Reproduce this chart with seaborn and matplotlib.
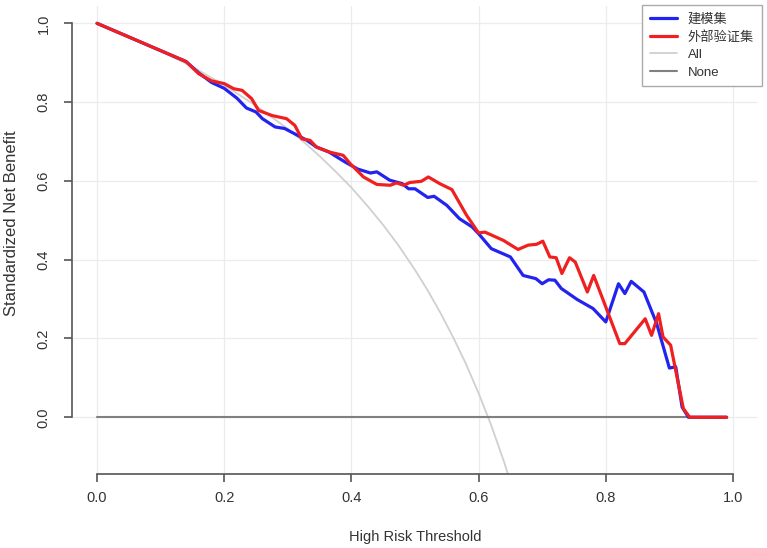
import numpy as np
import pandas as pd
import matplotlib
matplotlib.use("Agg")
import matplotlib.pyplot as plt
import seaborn as sns

# ── Data ──────────────────────────────────────────────────────────────────────
thr_blue = [0.0, 0.14, 0.16, 0.18, 0.20, 0.22, 0.235, 0.25, 0.26, 0.28, 0.295,
            0.315, 0.33, 0.345, 0.365, 0.39, 0.41, 0.43, 0.44, 0.46, 0.48, 0.49,
            0.50, 0.52, 0.53, 0.55, 0.57, 0.59, 0.60, 0.62, 0.65, 0.67, 0.69,
            0.70, 0.71, 0.72, 0.73, 0.755, 0.78, 0.80, 0.82, 0.83, 0.84, 0.86,
            0.88, 0.90, 0.91, 0.92, 0.93, 0.99]
nb_blue = [1.0, 0.903, 0.874, 0.850, 0.835, 0.81, 0.785, 0.775, 0.758, 0.737, 0.733,
           0.716, 0.703, 0.686, 0.673, 0.648, 0.63, 0.62, 0.623, 0.602, 0.593, 0.58,
           0.58, 0.558, 0.561, 0.538, 0.504, 0.483, 0.466, 0.428, 0.407, 0.36, 0.352,
           0.339, 0.349, 0.348, 0.327, 0.299, 0.276, 0.242, 0.339, 0.314, 0.345, 0.318,
           0.238, 0.125, 0.128, 0.026, 0.0, 0.0]

thr_red = [0.0, 0.14, 0.16, 0.18, 0.20, 0.215, 0.228, 0.243, 0.254, 0.275, 0.298,
           0.311, 0.322, 0.335, 0.345, 0.366, 0.387, 0.398, 0.419, 0.44, 0.461,
           0.471, 0.482, 0.492, 0.51, 0.521, 0.539, 0.558, 0.581, 0.60, 0.61,
           0.639, 0.662, 0.678, 0.691, 0.701, 0.712, 0.722, 0.731, 0.743, 0.752,
           0.771, 0.781, 0.796, 0.804, 0.822, 0.83, 0.862, 0.872, 0.883, 0.89,
           0.902, 0.922, 0.932, 0.99]
nb_red = [1.0, 0.903, 0.872, 0.854, 0.847, 0.834, 0.83, 0.809, 0.779, 0.766, 0.758,
          0.741, 0.707, 0.703, 0.686, 0.673, 0.665, 0.644, 0.61, 0.591, 0.589,
          0.595, 0.589, 0.596, 0.599, 0.61, 0.593, 0.578, 0.513, 0.468, 0.47,
          0.449, 0.426, 0.437, 0.439, 0.447, 0.407, 0.405, 0.365, 0.405, 0.394,
          0.318, 0.36, 0.297, 0.263, 0.187, 0.187, 0.25, 0.208, 0.263, 0.204,
          0.183, 0.022, 0.0, 0.0]

thr_all = [0.0, 0.05, 0.10, 0.15, 0.20, 0.25, 0.30, 0.325, 0.35, 0.375, 0.40,
           0.425, 0.45, 0.475, 0.50, 0.52, 0.54, 0.56, 0.58, 0.60, 0.62, 0.64, 0.66]
nb_all = [1.0, 0.967, 0.930, 0.890, 0.843, 0.791, 0.732, 0.699, 0.663, 0.624, 0.583,
          0.537, 0.488, 0.434, 0.374, 0.322, 0.265, 0.203, 0.136, 0.061, -0.021, -0.113, -0.215]

thr_none = [0.0, 0.99]
nb_none = [0.0, 0.0]

labels = ["建模集", "外部验证集", "All", "None"]

# ── Plot ──────────────────────────────────────────────────────────────────────
sns.set_style("white")
plt.rcParams['font.family'] = ['Liberation Sans', 'Noto Sans CJK SC', 'DejaVu Sans']

fig = plt.figure(figsize=(7.67, 5.48), dpi=100)
ax = fig.add_axes([71.6 / 767, 74 / 548, (758.4 - 71.6) / 767, (542 - 74) / 548])

# light grid
for g in [0, 0.2, 0.4, 0.6, 0.8, 1.0]:
    ax.axvline(g, color='#ececec', lw=0.9, zorder=0)
    ax.axhline(g, color='#ececec', lw=0.9, zorder=0)

sns.lineplot(x=thr_all, y=nb_all, ax=ax, color='#d0d0d0', lw=1.3, label=labels[2], sort=False)
sns.lineplot(x=thr_none, y=nb_none, ax=ax, color='#808080', lw=1.5, label=labels[3], sort=False)
sns.lineplot(x=thr_blue, y=nb_blue, ax=ax, color='#2323f0', lw=2.3, label=labels[0], sort=False)
sns.lineplot(x=thr_red, y=nb_red, ax=ax, color='#f02020', lw=2.3, label=labels[1], sort=False)

ax.set_xlim(-0.04, 1.04)
ax.set_ylim(-0.144, 1.044)

ticks = [0.0, 0.2, 0.4, 0.6, 0.8, 1.0]
ax.set_xticks(ticks)
ax.set_yticks(ticks)
ax.set_xticklabels([f"{t:.1f}" for t in ticks])
ax.set_yticklabels([f"{t:.1f}" for t in ticks], rotation=90, va='center')

for s in ['top', 'right']:
    ax.spines[s].set_visible(False)
for s in ['left', 'bottom']:
    ax.spines[s].set_color('#555555')
    ax.spines[s].set_linewidth(1.2)
ax.spines['left'].set_bounds(0, 1)
ax.spines['bottom'].set_bounds(0, 1)
ax.tick_params(axis='both', direction='out', length=6, width=1.2, color='#555555',
               labelsize=10.5, labelcolor='#333333', left=True, bottom=True)
ax.tick_params(axis='x', pad=6)
ax.tick_params(axis='y', pad=9)

ax.set_xlabel("High Risk Threshold", fontsize=10.5, color='#333333', labelpad=18)
ax.set_ylabel("Standardized Net Benefit", fontsize=12, color='#333333')
ax.yaxis.set_label_coords(-0.0766, 0.535)

handles, labs = ax.get_legend_handles_labels()
order = [labs.index(l) for l in labels]
leg = ax.legend([handles[i] for i in order], [labs[i] for i in order],
                loc='upper right', bbox_to_anchor=(762 / 767, 1 - 5 / 548),
                bbox_transform=fig.transFigure, borderaxespad=0,
                fancybox=False, framealpha=1, edgecolor='#aaaaaa',
                fontsize=9.5, handlelength=2.1, handletextpad=0.8,
                labelspacing=0.4, borderpad=0.6)
leg.get_frame().set_linewidth(1.0)
for t in leg.get_texts():
    t.set_color('#333333')
    t.set_family(['Liberation Sans', 'Noto Sans CJK SC'])

fig.savefig("out.png", dpi=100)
